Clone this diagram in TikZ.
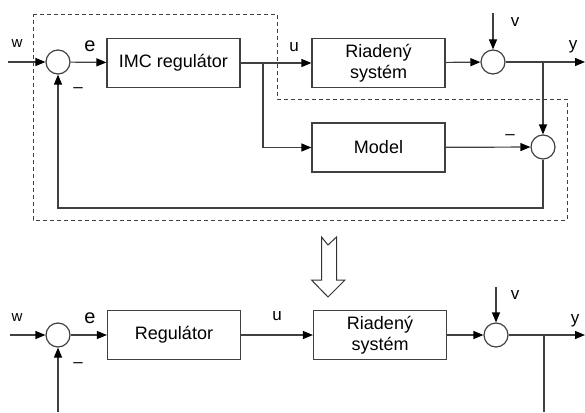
\documentclass[tikz,border=0pt]{standalone}
\usepackage{fontspec}
\setmainfont{Liberation Sans}
\usetikzlibrary{arrows.meta, calc}

\begin{document}
\begin{tikzpicture}[
    x=1pt, y=-1pt,
    line width=1.2pt,
    block/.style={draw=black!75, rectangle, minimum width=133pt, minimum height=49pt, align=center, inner sep=0pt, font=\fontsize{18}{21}\selectfont},
    sumnode/.style={draw=black!75, circle, minimum size=24pt, inner sep=0pt},
    sig/.style={draw=black!75, -{Triangle[length=10pt, width=8pt, color=black]}},
    lbl/.style={inner sep=0pt, font=\fontsize{17}{19}\selectfont},
    dashbox/.style={draw=black!75, line width=0.9pt, dash pattern=on 4pt off 3pt}
]
    \useasboundingbox (0,0) rectangle (585,412);

    % IMC structure
    \draw[dashbox] (33,14) -- (277,14) -- (277,99) -- (567,99) -- (567,220) -- (33,220) -- cycle;

    \node[sumnode] (s1) at (58,62) {};
    \node[block] (imc) at (173.5,63) {IMC regulátor};
    \node[block] (plant) at (378.5,63) {Riadený\\systém};
    \node[sumnode] (s2) at (493,62) {};
    \node[block] (model) at (378.5,147.5) {Model};
    \node[sumnode] (s3) at (543,147) {};

    \coordinate (win) at (8,62);
    \coordinate (bu) at (263,62);
    \coordinate (vin) at (493,13);
    \coordinate (yout) at (585,62);
    \coordinate (by) at (543,62);
    \coordinate (fb) at (300,208);

    \draw[sig] (win) -- (s1);
    \draw[sig] (s1) -- (imc);
    \draw[sig] (imc) -- (plant);
    \draw[sig] (bu) |- (model);
    \draw[sig] (plant) -- (s2);
    \draw[sig] (vin) -- (s2);
    \draw[sig] (s2) -- (yout);
    \draw[sig] (by) -- (s3);
    \draw[sig] (model) -- (s3);
    \draw[sig] (s3) |- (fb) -| (s1);

    \node[lbl, font=\fontsize{15}{17}\selectfont] (w) at (17,44) {w};
    \node[lbl, font=\fontsize{20}{22}\selectfont] (e) at (90,46) {e};
    \node[lbl] (u) at (294,47) {u};
    \node[lbl] (v) at (515,22) {v};
    \node[lbl] (y) at (573,47) {y};
    \node[lbl] (m1) at (78,90) {–};
    \node[lbl] (m3) at (510,137) {–};

    % hollow arrow
    \draw[draw=black!80, line width=1pt] (321.5,237) -- (328,245) -- (336.5,237) -- (336.5,280)
        -- (345,280) -- (328,297) -- (311.5,280) -- (321.5,280) -- cycle;

    % classic loop
    \node[sumnode] (s1b) at (58,335) {};
    \node[block] (reg) at (174,335) {Regulátor};
    \node[block] (plantb) at (380,335) {Riadený\\systém};
    \node[sumnode] (s2b) at (496,335) {};

    \coordinate (winb) at (10,335);
    \coordinate (vinb) at (496,287);
    \coordinate (youtb) at (585,335);
    \coordinate (byb) at (544,335);
    \coordinate (yend) at (544,412);
    \coordinate (fbb) at (58,412);

    \draw[sig] (winb) -- (s1b);
    \draw[sig] (s1b) -- (reg);
    \draw[sig] (reg) -- (plantb);
    \draw[sig] (plantb) -- (s2b);
    \draw[sig] (vinb) -- (s2b);
    \draw[sig] (s2b) -- (youtb);
    \draw[draw=black!75] (byb) -- (yend);
    \draw[sig] (fbb) -- (s1b);

    \node[lbl, font=\fontsize{15}{17}\selectfont] (wb) at (17,318) {w};
    \node[lbl, font=\fontsize{20}{22}\selectfont] (eb) at (90,318) {e};
    \node[lbl] (ub) at (277,316) {u};
    \node[lbl] (vb) at (515,295) {v};
    \node[lbl] (yb) at (575,321) {y};
    \node[lbl] (m1b) at (78,365) {–};
\end{tikzpicture}
\end{document}
